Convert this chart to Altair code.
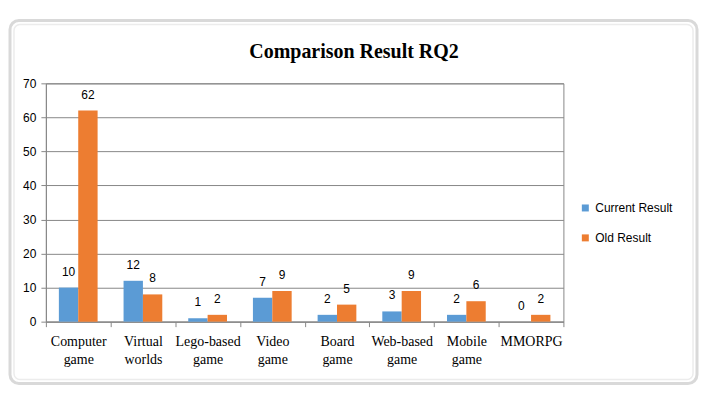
import altair as alt
import pandas as pd

chart_title = "Comparison Result RQ2"
categories = ["Computer game", "Virtual worlds", "Lego-based game", "Video game",
              "Board game", "Web-based game", "Mobile game", "MMORPG"]
series = ["Current Result", "Old Result"]
current_result = [10, 12, 1, 7, 2, 3, 2, 0]
old_result = [62, 8, 2, 9, 5, 9, 6, 2]
y_ticks = [0, 10, 20, 30, 40, 50, 60, 70]
colors = ["#5B9BD5", "#ED7D31"]

rows = []
for c, a, b in zip(categories, current_result, old_result):
    rows.append({"cat": c, "series": series[0], "value": a})
    rows.append({"cat": c, "series": series[1], "value": b})
df = pd.DataFrame(rows)

gray = "#888888"
sans = "Liberation Sans"
serif = "Liberation Serif"

x_enc = alt.X("cat:N", sort=categories, title=None,
              scale=alt.Scale(paddingInner=0, paddingOuter=0),
              axis=alt.Axis(tickBand="extent", tickSize=5, tickColor=gray,
                            domainColor=gray, labelAngle=0,
                            labelFont=serif, labelFontSize=14, labelColor="#000000",
                            labelLineHeight=18, labelPadding=8,
                            labelExpr="split(datum.label, ' ')", grid=False))
xo_enc = alt.XOffset("series:N", sort=series,
                     scale=alt.Scale(paddingInner=0, paddingOuter=0.67))
y_enc = alt.Y("value:Q", title=None,
              scale=alt.Scale(domain=[0, 70], nice=False),
              axis=alt.Axis(values=y_ticks, tickSize=5, tickColor=gray,
                            domainColor=gray, gridColor=gray, gridOpacity=1,
                            labelFont=sans, labelFontSize=12, labelColor="#000000",
                            labelPadding=5, labelOverlap=False))
color_enc = alt.Color("series:N", sort=series,
                      scale=alt.Scale(domain=series, range=colors),
                      legend=alt.Legend(title=None, orient="none", legendX=535,
                                        legendY=119, symbolType="square",
                                        symbolSize=49, symbolStrokeWidth=0,
                                        labelFont=sans, labelFontSize=12,
                                        labelColor="#000000", rowPadding=18,
                                        labelOffset=4, padding=0))

bars = alt.Chart(df).mark_bar().encode(x=x_enc, xOffset=xo_enc, y=y_enc, color=color_enc)
labels = alt.Chart(df).mark_text(dy=-16, baseline="middle", font=sans, fontSize=12,
                                 color="#000000").encode(
    x=x_enc, xOffset=xo_enc, y=y_enc, text="value:Q")

title_mark = alt.Chart(alt.Data(values=[{"t": chart_title}])).mark_text(
    font=serif, fontSize=20, fontWeight="bold", color="#000000",
    align="center", baseline="alphabetic").encode(
    text="t:N", x=alt.value(309), y=alt.value(-25))

frame_outer = alt.Chart(alt.Data(values=[{}])).mark_rect(
    fill=None, stroke="#d9d9d9", strokeWidth=3, cornerRadius=9).encode(
    x=alt.value(-36), x2=alt.value(653), y=alt.value(-63), y2=alt.value(301))
frame_inner = alt.Chart(alt.Data(values=[{}])).mark_rect(
    fill=None, stroke="#ececec", strokeWidth=1.5, cornerRadius=6).encode(
    x=alt.value(-32), x2=alt.value(649), y=alt.value(-59), y2=alt.value(297))

chart = alt.layer(frame_outer, frame_inner, bars, labels, title_mark).properties(
    width=519, height=239,
    autosize=alt.AutoSizeParams(type="none"),
    padding={"left": 38, "top": 75, "right": 136, "bottom": 66},
).configure_view(stroke=gray, strokeWidth=1)

chart.save("out.html", embed_options={"renderer": "svg", "actions": False})
